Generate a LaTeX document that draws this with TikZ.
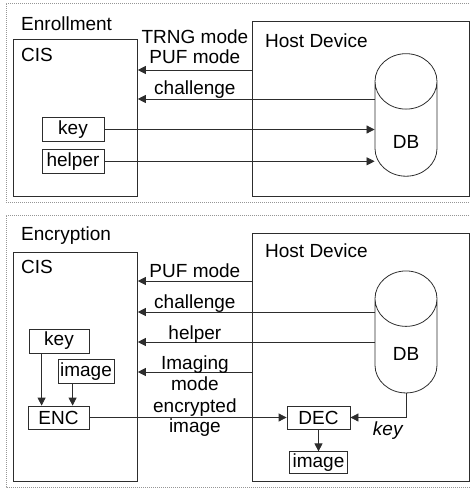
\documentclass[tikz,border=0pt]{standalone}
\usepackage{fontspec}
\setmainfont{Liberation Sans}
\usetikzlibrary{arrows.meta, shapes.geometric, positioning, calc}
\definecolor{linegray}{RGB}{45, 45, 45}
\definecolor{dotgray}{RGB}{150, 150, 150}

\begin{document}
\begin{tikzpicture}[x=1pt, y=-1pt,
        font=\fontsize{19}{20.5}\selectfont,
        panel/.style={draw=dotgray, line width=1pt, dash pattern=on 1pt off 1pt},
        unit/.style={draw=linegray, line width=0.8pt, anchor=north west, inner sep=0pt},
        item/.style={draw=linegray, line width=0.8pt, inner sep=0pt, minimum height=24pt},
        store/.style={draw=linegray, line width=0.8pt, cylinder, shape border rotate=90,
                      aspect=2.1, minimum width=62pt, minimum height=122pt, inner sep=0pt,
                      text depth=0pt},
        flow/.style={-{Triangle[length=8pt, width=8pt]}, draw=linegray, line width=0.8pt},
        lbl/.style={inner sep=0pt, text height=0.73em, text depth=0.22em},
        pair/.style={inner sep=0pt, align=center},
        title/.style={anchor=base west, inner sep=0pt}]
        \useasboundingbox (0,0) rectangle (470,488);

        % dotted frames of the two phases
        \draw[panel] (475,3) -| (6,202) -- (475,202);
        \draw[panel] (475,215) -| (6,487) -- (475,487);

        % enrollment phase
        \node[title] (enroll) at (21,30) {Enrollment};
        \node[unit, minimum width=124pt, minimum height=157pt] (cisA) at (13,39) {};
        \node[title] (cisAt) at (21,61) {CIS};
        \node[unit, minimum width=217pt, minimum height=175pt] (hostA) at (252,21) {};
        \node[title] (hostAt) at (265,47) {Host Device};
        \node[store, text height=39pt] (dbA) at (406,129) {DB};
        \node[item, minimum width=62pt] (keyA) at (73,129.5) {key};
        \node[item, minimum width=62pt, below=7pt of keyA] (helpA) {helper};
        \coordinate (gapA) at ($(cisA.east)!0.5!(hostA.west)$);

        \draw[flow] ([yshift=-49pt]hostA.north west) coordinate (modeA) -- (modeA -| cisA.east);
        \node[pair, above=6pt] at (modeA -| gapA) {TRNG mode\\PUF mode};
        \draw[flow] ([yshift=30pt]dbA.west) coordinate (chalA) -- (chalA -| cisA.east);
        \node[lbl, above=2pt] at (chalA -| gapA) {challenge};
        \draw[flow] (keyA) -- (keyA -| dbA.west);
        \draw[flow] (helpA) -- (helpA -| dbA.west);

        % encryption phase
        \node[title] (encrypt) at (21,240) {Encryption};
        \node[unit, minimum width=124pt, minimum height=229pt] (cisB) at (13,252) {};
        \node[title] (cisBt) at (21,273) {CIS};
        \node[unit, minimum width=217pt, minimum height=248pt] (hostB) at (252,233) {};
        \node[title] (hostBt) at (265,257) {Host Device};
        \node[store, text height=29pt] (dbB) at (406,346) {DB};
        \node[item, minimum width=60pt] (keyB) at (59,341) {key};
        \node[item, minimum width=56pt] (imgB) at (86,371.5) {image};
        \node[item, minimum width=61pt, minimum height=23pt] (encB) at (58.5,417.5) {ENC};
        \node[item, minimum width=63pt, minimum height=23pt] (decB) at (318.5,417.5) {DEC};
        \node[item, minimum width=58pt, minimum height=22pt, below=22pt of decB] (outB) {image};
        \coordinate (gapB) at ($(cisB.east)!0.5!(hostB.west)$);

        \draw[flow] ([yshift=-48pt]hostB.north west) coordinate (modeB) -- (modeB -| cisB.east);
        \node[lbl, above=1pt] at (modeB -| gapB) {PUF mode};
        \draw[flow] ([yshift=34pt]dbB.west) coordinate (chalB) -- (chalB -| cisB.east);
        \node[lbl, above=1pt] at (chalB -| gapB) {challenge};
        \draw[flow] ([yshift=4pt]dbB.west) coordinate (helpB) -- (helpB -| cisB.east);
        \node[lbl, above=0pt] at (helpB -| gapB) {helper};
        \draw[flow] ([yshift=-139pt]hostB.north west) coordinate (imgmode) -- (imgmode -| cisB.east);
        \node[pair, yshift=-1pt] at (imgmode -| gapB) {Imaging\\mode};
        \draw[flow] ([xshift=13pt]keyB.south west) coordinate (keyout) -- (keyout |- encB.north);
        \draw[flow] ([xshift=15pt]imgB.south west) coordinate (imgout) -- (imgout |- encB.north);
        \draw[flow] (encB) -- (decB);
        \node[pair] at (encB -| gapB) {encrypted\\image};
        \draw[flow] (dbB.south) |- node[lbl, below=10pt, pos=0.66] {\textit{key}} (decB.east);
        \draw[flow] (decB) -- (outB);
\end{tikzpicture}
\end{document}
